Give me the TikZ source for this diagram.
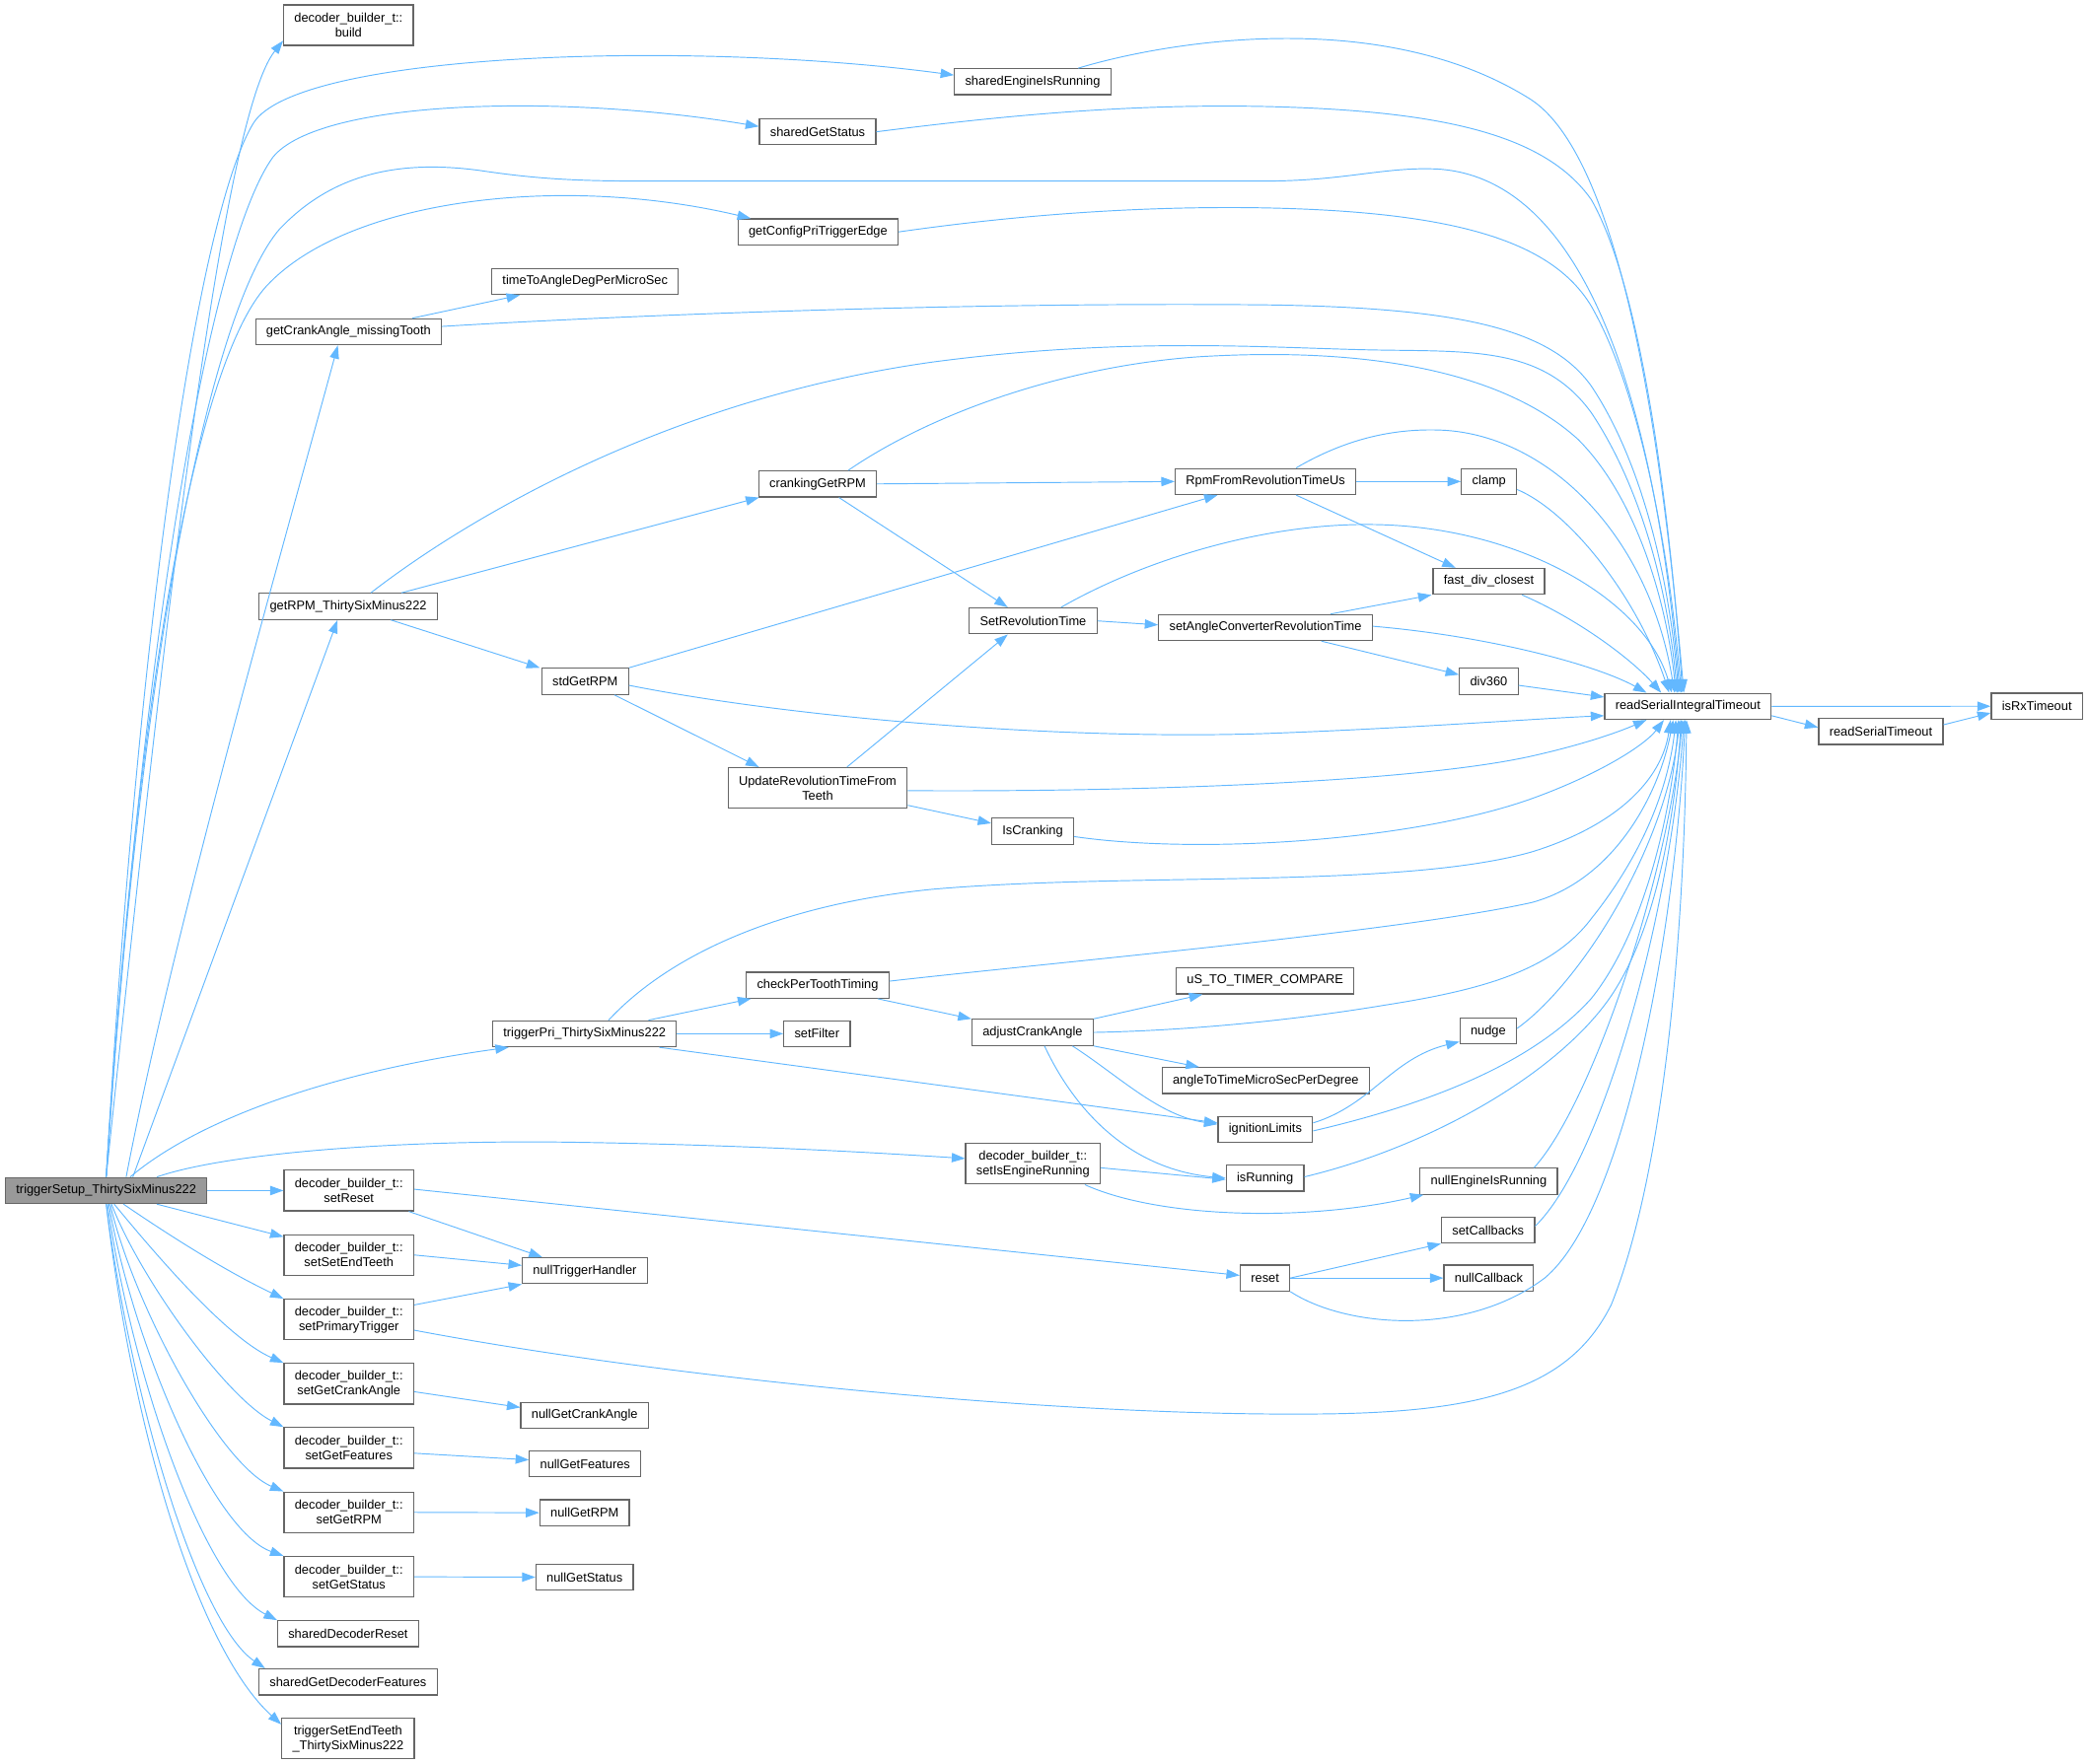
\documentclass[tikz,border=0pt]{standalone}
\usepackage{fontspec}
\setmainfont{Liberation Sans}
\usetikzlibrary{arrows.meta}
\definecolor{edgeblue}{HTML}{63B8FF}
\definecolor{boxline}{HTML}{666666}
\definecolor{rootfill}{HTML}{999999}

\begin{document}
\begin{tikzpicture}[x=1pt,y=-1pt]
\path[use as bounding box] (0,0) rectangle (1568,1325);

\tikzstyle{fn}=[draw=boxline,line width=0.9pt,fill=white,inner xsep=8pt,inner ysep=0pt,minimum height=19.5pt,font=\fontsize{9.5}{11}\selectfont,align=center]
\tikzstyle{fn2}=[fn,minimum height=30.5pt]
\tikzstyle{call}=[draw=edgeblue,line width=0.7pt,-{Triangle[length=10pt,width=7pt]}]

% root
\node[fn,fill=rootfill] (t) at (79.75,894.3) {triggerSetup\_ThirtySixMinus222};

% first level
\node[fn2] (build) at (261.7,18.9) {decoder\_builder\_t::\\build};
\node[fn] (sEIR) at (775.5,61.4) {sharedEngineIsRunning};
\node[fn] (sGS) at (614,99) {sharedGetStatus};
\node[fn] (gCPTE) at (614.3,174.2) {getConfigPriTriggerEdge};
\node[fn] (tTA) at (439.4,211.5) {timeToAngleDegPerMicroSec};
\node[fn] (gCA) at (261.7,249.2) {getCrankAngle\_missingTooth};
\node[fn] (getrpm) at (261.5,455.5) {getRPM\_ThirtySixMinus222};
\node[fn] (tpri) at (439,776.5) {triggerPri\_ThirtySixMinus222};
\node[fn2] (sreset) at (262,894.3) {decoder\_builder\_t::\\setReset};
\node[fn2] (ssend) at (262,942.7) {decoder\_builder\_t::\\setSetEndTeeth};
\node[fn2] (sprim) at (262,991.2) {decoder\_builder\_t::\\setPrimaryTrigger};
\node[fn2] (sgca) at (262,1039.4) {decoder\_builder\_t::\\setGetCrankAngle};
\node[fn2] (sgf) at (262,1087.6) {decoder\_builder\_t::\\setGetFeatures};
\node[fn2] (sgrpm) at (262,1136) {decoder\_builder\_t::\\setGetRPM};
\node[fn2] (sgs) at (262,1184.4) {decoder\_builder\_t::\\setGetStatus};
\node[fn] (sdr) at (261.4,1227.2) {sharedDecoderReset};
\node[fn] (sgdf) at (261.4,1263.4) {sharedGetDecoderFeatures};
\node[fn2] (tset) at (261.4,1306) {triggerSetEndTeeth\\\_ThirtySixMinus222};

% middle
\node[fn] (cGR) at (614,363.5) {crankingGetRPM};
\node[fn] (rfr) at (950.3,361.7) {RpmFromRevolutionTimeUs};
\node[fn] (clamp) at (1118.2,361.7) {clamp};
\node[fn] (fdc) at (1118,436.7) {fast\_div\_closest};
\node[fn] (srt) at (775.8,466.4) {SetRevolutionTime};
\node[fn] (sacrt) at (950.3,471.4) {setAngleConverterRevolutionTime};
\node[fn] (std) at (439.4,511.8) {stdGetRPM};
\node[fn] (div360) at (1118,511.8) {div360};
\node[fn2] (urt) at (614,591.9) {UpdateRevolutionTimeFrom\\Teeth};
\node[fn] (isc) at (775.5,624.4) {IsCranking};
\node[fn] (cptt) at (614,740) {checkPerToothTiming};
\node[fn] (ustc) at (950,736.8) {uS\_TO\_TIMER\_COMPARE};
\node[fn] (sf) at (613.5,776.5) {setFilter};
\node[fn] (aca) at (775.4,775.5) {adjustCrankAngle};
\node[fn] (nudge) at (1117.6,774.5) {nudge};
\node[fn] (attm) at (950.5,811.7) {angleToTimeMicroSecPerDegree};
\node[fn] (il) at (950.2,848.5) {ignitionLimits};
\node[fn2] (sier) at (775.7,874.2) {decoder\_builder\_t::\\setIsEngineRunning};
\node[fn] (isr) at (950,885) {isRunning};
\node[fn] (neir) at (1118,887.3) {nullEngineIsRunning};
\node[fn] (scb) at (1117.5,924) {setCallbacks};
\node[fn] (ntrh) at (439.2,954.5) {nullTriggerHandler};
\node[fn] (reset) at (950,960) {reset};
\node[fn] (ncb) at (1118,960) {nullCallback};
\node[fn] (ngca) at (439,1063.2) {nullGetCrankAngle};
\node[fn] (ngf) at (439.4,1099.6) {nullGetFeatures};
\node[fn] (ngrpm) at (439,1136.3) {nullGetRPM};
\node[fn] (ngs) at (439,1184.7) {nullGetStatus};

% right
\node[fn] (rsit) at (1267.5,530.6) {readSerialIntegralTimeout};
\node[fn] (rst) at (1412.4,549.4) {readSerialTimeout};
\node[fn] (isrx) at (1529.6,530.5) {isRxTimeout};

% calls from the root
\draw[call] (t.north) .. controls (120,500) and (165,90) .. ([yshift=4pt]build.south west);
\draw[call] (t.north) .. controls (105,450) and (150,160) .. (190,93) .. controls (222,39) and (520,30) .. ([yshift=5pt]sEIR.west);
\draw[call] (t.north) .. controls (108,460) and (160,180) .. (205,118) .. controls (240,75) and (420,70) .. ([yshift=4pt]sGS.west);
\draw[call] (t.north) .. controls (106,480) and (160,230) .. (210,172) .. controls (250,130) and (300,120) .. (360,128) .. controls (400,134) and (430,136) .. (480,136) -- (950,136) .. controls (1010,136) and (1040,125) .. (1080,127) .. controls (1200,135) and (1245,330) .. ([xshift=-6pt]rsit.north);
\draw[call] (t.north) .. controls (104,500) and (150,270) .. (200,215) .. controls (260,150) and (420,130) .. ([xshift=10pt]gCPTE.north west);
\draw[call] ([xshift=15pt]t.north) .. controls (130,700) and (210,420) .. ([xshift=-8pt]gCA.south);
\draw[call] ([xshift=20pt]t.north) -- ([xshift=-8pt]getrpm.south);
\draw[call] ([xshift=18pt]t.north) .. controls (150,840) and (250,805) .. ([xshift=-57pt]tpri.south);
\draw[call] ([xshift=38pt]t.north) .. controls (170,866) and (300,856) .. (430,858) .. controls (560,860) and (660,866) .. ([yshift=4pt]sier.west);
\draw[call] (t.east) -- (sreset.west);
\draw[call] ([xshift=38pt]t.south) -- ([yshift=-2pt]ssend.north west);
\draw[call] ([xshift=13pt]t.south) .. controls (130,930) and (170,955) .. (sprim.north west);
\draw[call] ([xshift=6pt]t.south) .. controls (115,940) and (170,1005) .. (sgca.north west);
\draw[call] ([xshift=4pt]t.south) .. controls (105,960) and (170,1050) .. (sgf.north west);
\draw[call] ([xshift=3pt]t.south) .. controls (100,980) and (165,1100) .. (sgrpm.north west);
\draw[call] ([xshift=2pt]t.south) .. controls (100,1010) and (160,1150) .. (sgs.north west);
\draw[call] ([xshift=1pt]t.south) .. controls (100,1040) and (155,1190) .. (sdr.north west);
\draw[call] (t.south) .. controls (100,1060) and (150,1220) .. ([xshift=5pt]sgdf.north west);
\draw[call] (t.south) .. controls (100,1080) and (150,1240) .. ([yshift=-5pt]tset.north west);

% into readSerialIntegralTimeout from above
\draw[call] ([xshift=-25pt]sEIR.north east) .. controls (880,30) and (1040,5) .. (1150,75) .. controls (1225,125) and (1252,380) .. ([xshift=-3pt]rsit.north);
\draw[call] (sGS.east) .. controls (760,86) and (850,78) .. (950,80) .. controls (1080,83) and (1160,100) .. (1195,150) .. controls (1235,220) and (1255,400) .. ([xshift=-4pt]rsit.north);
\draw[call] (gCPTE.east) .. controls (760,162) and (850,155) .. (940,156) .. controls (1090,158) and (1165,180) .. (1195,230) .. controls (1235,300) and (1255,430) .. ([xshift=-5pt]rsit.north);
\draw[call] ([yshift=4pt]gCA.east) .. controls (500,235) and (750,227) .. (950,229) .. controls (1100,231) and (1165,248) .. (1195,290) .. controls (1235,350) and (1254,440) .. ([xshift=-7pt]rsit.north);
\draw[call] ([xshift=17pt]getrpm.north) .. controls (350,390) and (500,300) .. (700,272) .. controls (850,252) and (960,262) .. (1040,263) .. controls (1110,264) and (1160,262) .. (1195,310) .. controls (1235,370) and (1253,450) .. ([xshift=-8pt]rsit.north);
\draw[call] ([xshift=23pt]cGR.north) .. controls (700,310) and (800,275) .. (900,268) .. controls (1030,260) and (1130,280) .. (1185,330) .. controls (1230,375) and (1252,455) .. ([xshift=-9pt]rsit.north);
\draw[call] ([xshift=23pt]rfr.north) .. controls (1010,330) and (1045,322) .. (1080,323) .. controls (1160,325) and (1238,400) .. ([xshift=-10pt]rsit.north);
\draw[call] ([yshift=-6pt]clamp.east) .. controls (1180,385) and (1230,450) .. ([xshift=-14pt]rsit.north);
\draw[call] ([xshift=25pt]fdc.south) .. controls (1185,465) and (1225,495) .. ([xshift=-20pt]rsit.north);
\draw[call] ([xshift=21pt]srt.north) .. controls (860,420) and (950,393) .. (1030,394) .. controls (1140,395) and (1235,450) .. ([xshift=-12pt]rsit.north);
\draw[call] ([yshift=1pt]sacrt.east) .. controls (1120,478) and (1200,500) .. ([xshift=-31pt]rsit.north);
\draw[call] ([yshift=-3pt]div360.east) -- ([yshift=7pt]rsit.west);
\draw[call] ([yshift=-3pt]std.east) .. controls (600,540) and (800,556) .. (950,551) .. controls (1060,547) and (1150,540) .. ([yshift=-7pt]rsit.west);

% into readSerialIntegralTimeout from below
\draw[call] ([yshift=-2pt]urt.east) .. controls (850,595) and (1060,588) .. (1150,568) .. controls (1190,559) and (1215,550) .. ([xshift=-31pt]rsit.south);
\draw[call] ([yshift=-4pt]isc.east) .. controls (900,642) and (1060,632) .. (1150,600) .. controls (1200,582) and (1235,560) .. ([xshift=-18pt]rsit.south);
\draw[call] ([xshift=18pt]tpri.north) .. controls (500,720) and (580,680) .. (700,668) .. controls (850,655) and (1050,668) .. (1150,640) .. controls (1215,620) and (1248,585) .. ([xshift=-13pt]rsit.south);
\draw[call] ([yshift=3pt]cptt.east) .. controls (800,722) and (1050,700) .. (1150,678) .. controls (1210,662) and (1245,600) .. ([xshift=-11pt]rsit.south);
\draw[call] (aca.east) .. controls (900,774) and (980,765) .. (1040,755) .. controls (1110,744) and (1165,730) .. (1195,690) .. controls (1235,640) and (1253,590) .. ([xshift=-9pt]rsit.south);
\draw[call] ([yshift=-1pt]il.east) .. controls (1070,830) and (1150,800) .. (1195,750) .. controls (1235,700) and (1255,610) .. ([xshift=-7pt]rsit.south);
\draw[call] ([yshift=2pt]nudge.east) .. controls (1185,740) and (1250,640) .. ([xshift=-6pt]rsit.south);
\draw[call] ([yshift=1pt]isr.east) .. controls (1080,860) and (1180,800) .. (1215,740) .. controls (1245,690) and (1258,610) .. ([xshift=-5pt]rsit.south);
\draw[call] ([xshift=34pt]neir.north) .. controls (1195,830) and (1252,660) .. ([xshift=-4pt]rsit.south);
\draw[call] ([yshift=3pt]scb.east) .. controls (1205,870) and (1255,680) .. ([xshift=-3pt]rsit.south);
\draw[call] (reset.south east) .. controls (1010,997) and (1100,1005) .. (1160,960) .. controls (1220,910) and (1258,700) .. ([xshift=-2pt]rsit.south);
\draw[call] ([yshift=-8pt]sprim.east) .. controls (500,1035) and (800,1065) .. (1000,1062) .. controls (1120,1060) and (1180,1040) .. (1210,980) .. controls (1250,880) and (1265,700) .. ([xshift=-1pt]rsit.south);

% other calls
\draw[call] ([xshift=48pt]gCA.north) -- ([xshift=-49pt]tTA.south);
\draw[call] ([xshift=40pt]getrpm.north) -- ([xshift=-44pt]cGR.south);
\draw[call] ([xshift=32pt]getrpm.south) -- ([xshift=-34pt]std.north);
\draw[call] (cGR.east) -- (rfr.west);
\draw[call] ([xshift=16pt]cGR.south) -- ([xshift=-19pt]srt.north);
\draw[call] (rfr.east) -- (clamp.west);
\draw[call] ([xshift=23pt]rfr.south) -- ([xshift=-25pt]fdc.north);
\draw[call] (srt.east) -- ([yshift=2pt]sacrt.west);
\draw[call] ([xshift=49pt]sacrt.north) -- ([xshift=-43pt]fdc.south);
\draw[call] ([xshift=42pt]sacrt.south) -- ([yshift=5pt]div360.west);
\draw[call] (std.north east) -- ([xshift=-36pt]rfr.south);
\draw[call] ([xshift=22pt]std.south) -- ([xshift=-44pt]urt.north);
\draw[call] ([xshift=22pt]urt.north) -- ([xshift=-19pt]srt.south);
\draw[call] ([yshift=-13pt]urt.east) -- ([yshift=6pt]isc.west);
\draw[call] (rsit.east) -- (isrx.west);
\draw[call] ([yshift=-7pt]rsit.east) -- ([yshift=3pt]rst.west);
\draw[call] ([yshift=5pt]rst.east) -- ([yshift=-5pt]isrx.west);
\draw[call] ([xshift=48pt]tpri.north) -- ([xshift=-50pt]cptt.south);
\draw[call] (tpri.east) -- (sf.west);
\draw[call] ([xshift=56pt]tpri.south) -- ([yshift=5pt]il.west);
\draw[call] ([xshift=45pt]cptt.south) -- (aca.north west);
\draw[call] (aca.north east) -- ([xshift=-47pt]ustc.south);
\draw[call] (aca.south east) -- ([xshift=-50pt]attm.north);
\draw[call] ([xshift=30pt]aca.south) .. controls (840,808) and (870,838) .. ([yshift=4pt]il.west);
\draw[call] ([xshift=9pt]aca.south) .. controls (805,830) and (845,878) .. (isr.west);
\draw[call] ([yshift=5pt]il.east) .. controls (1030,830) and (1045,795) .. ([yshift=-8pt]nudge.west);
\draw[call] ([yshift=-3pt]sier.east) -- ([yshift=-1pt]isr.west);
\draw[call] ([xshift=39pt]sier.south) .. controls (870,915) and (980,918) .. ([xshift=3pt]neir.south west);
\draw[call] (reset.east) -- (scb.south west);
\draw[call] (reset.east) -- (ncb.west);
\draw[call] ([xshift=45pt]sreset.south) -- ([xshift=-32pt]ntrh.north);
\draw[call] ([yshift=1pt]sreset.east) -- ([yshift=2pt]reset.west);
\draw[call] (ssend.east) -- ([yshift=4pt]ntrh.west);
\draw[call] ([yshift=11pt]sprim.east) -- (ntrh.south west);
\draw[call] ([yshift=-6pt]sgca.east) -- ([yshift=6pt]ngca.west);
\draw[call] ([yshift=-4pt]sgf.east) -- ([yshift=3pt]ngf.west);
\draw[call] (sgrpm.east) -- (ngrpm.west);
\draw[call] (sgs.east) -- (ngs.west);
\end{tikzpicture}
\end{document}
